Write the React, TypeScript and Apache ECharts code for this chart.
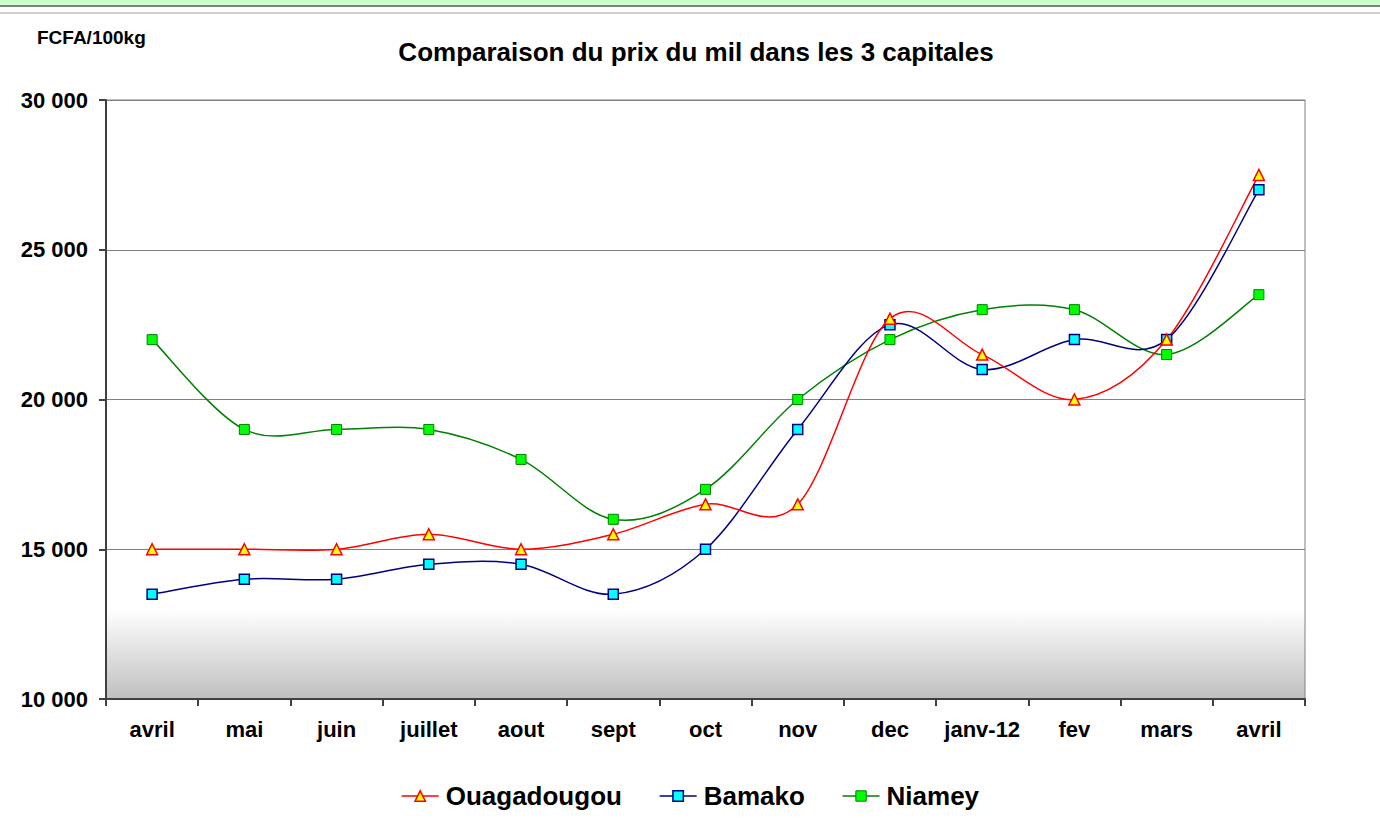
import React, { useEffect, useRef } from "react";
import * as echarts from "echarts";

const categories = ["avril", "mai", "juin", "juillet", "aout", "sept", "oct", "nov", "dec", "janv-12", "fev", "mars", "avril"];
const ouagadougou = [15000, 15000, 15000, 15500, 15000, 15500, 16500, 16500, 22700, 21500, 20000, 22000, 27500];
const bamako = [13500, 14000, 14000, 14500, 14500, 13500, 15000, 19000, 22500, 21000, 22000, 22000, 27000];
const niamey = [22000, 19000, 19000, 19000, 18000, 16000, 17000, 20000, 22000, 23000, 23000, 21500, 23500];
const seriesNames = ["Ouagadougou", "Bamako", "Niamey"];
const yMin = 10000;
const yMax = 30000;
const yStep = 5000;

const fmt = (v: number) => String(Math.round(v)).replace(/\B(?=(\d{3})+(?!\d))/g, " ");

// Excel-like smoothed curve: one cubic Bezier per segment (Catmull-Rom, tension 1/6)
function makeCurve(arr: number[], color: string) {
  const n = arr.length;
  return (params: any, api: any) => {
    const i = params.dataIndex;
    if (i >= n - 1) return null;
    const pt = (k: number) => {
      const c = Math.max(0, Math.min(n - 1, k));
      return api.coord([c, arr[c]]);
    };
    const p0 = pt(i - 1);
    const p1 = pt(i);
    const p2 = pt(i + 1);
    const p3 = pt(i + 2);
    return {
      type: "bezierCurve",
      shape: {
        x1: p1[0],
        y1: p1[1],
        x2: p2[0],
        y2: p2[1],
        cpx1: p1[0] + (p2[0] - p0[0]) / 6,
        cpy1: p1[1] + (p2[1] - p0[1]) / 6,
        cpx2: p2[0] - (p3[0] - p1[0]) / 6,
        cpy2: p2[1] - (p3[1] - p1[1]) / 6,
      },
      style: { stroke: color, lineWidth: 1.5, fill: null },
      silent: true,
    };
  };
}

export default function App() {
  const ref = useRef<HTMLDivElement>(null);
  useEffect(() => {
    if (!ref.current) return;
    const chart = echarts.init(ref.current, null, { renderer: "svg" });
    const font = "Arial, 'Liberation Sans', sans-serif";
    const defs = [
      { name: seriesNames[0], data: ouagadougou, line: "#ff0000", fill: "#ffff00", border: "#ff0000", symbol: "triangle", size: 11, bw: 1.5 },
      { name: seriesNames[1], data: bamako, line: "#000080", fill: "#00ffff", border: "#000080", symbol: "rect", size: 10, bw: 1.5 },
      { name: seriesNames[2], data: niamey, line: "#008000", fill: "#00ff00", border: "#008000", symbol: "rect", size: 10, bw: 1 },
    ];
    const markerSeries = defs.map((d, k) => ({
      name: d.name,
      type: "line",
      data: d.data,
      symbol: d.symbol,
      symbolSize: d.size,
      showSymbol: true,
      lineStyle: { color: d.line, width: 1.5, opacity: 0 },
      itemStyle: { color: d.fill, borderColor: d.border, borderWidth: d.bw },
      z: 10 - k,
    }));
    const curveSeries = defs.map((d, k) => ({
      name: d.name,
      type: "custom",
      data: d.data.map((v, i) => [i, v]),
      encode: { x: 0, y: 1 },
      renderItem: makeCurve(d.data, d.line),
      z: 5 - k,
    }));
    chart.setOption({
      animation: false,
      backgroundColor: "#ffffff",
      textStyle: { fontFamily: font },
      title: {
        text: "Comparaison du prix du mil dans les 3 capitales",
        left: 691,
        top: 34,
        textAlign: "center",
        textStyle: { fontSize: 26, fontWeight: "bold", color: "#000", fontFamily: font },
      },
      graphic: [
        { type: "rect", shape: { x: 0, y: 0, width: 1380, height: 5 }, style: { fill: "#ccffcc" }, silent: true },
        { type: "rect", shape: { x: 0, y: 5, width: 1380, height: 2 }, style: { fill: "#808080" }, silent: true },
        { type: "rect", shape: { x: 0, y: 12, width: 1380, height: 2 }, style: { fill: "#d4d0c8" }, silent: true },
        {
          type: "text",
          left: 37,
          top: 28,
          style: { text: "FCFA/100kg", font: `bold 19px ${font}`, fill: "#000" },
          silent: true,
        },
      ],
      legend: {
        top: 778,
        left: "center",
        itemWidth: 37,
        itemHeight: 13,
        itemGap: 37,
        textStyle: { fontSize: 26, fontWeight: "bold", color: "#000", fontFamily: font, padding: [0, 0, 0, 2] },
        data: defs.map((d) => ({
          name: d.name,
          itemStyle: { color: d.fill, borderColor: d.border, borderWidth: d.bw },
          lineStyle: { color: d.line, width: 1.5, opacity: 1 },
        })),
      },
      grid: {
        left: 106,
        right: 75,
        top: 100,
        bottom: 119,
        show: true,
        borderColor: "#808080",
        borderWidth: 1,
        backgroundColor: new echarts.graphic.LinearGradient(0, 0, 0, 1, [
          { offset: 0, color: "#ffffff" },
          { offset: 0.85, color: "#ffffff" },
          { offset: 1, color: "#bfbfbf" },
        ]),
      },
      xAxis: {
        type: "category",
        data: categories,
        boundaryGap: true,
        axisLine: { lineStyle: { color: "#404040", width: 2 } },
        axisTick: { show: true, length: 7, lineStyle: { color: "#404040", width: 2 } },
        axisLabel: { fontSize: 22, fontWeight: "bold", color: "#000", margin: 19, fontFamily: font, interval: 0 },
      },
      yAxis: {
        type: "value",
        min: yMin,
        max: yMax,
        interval: yStep,
        axisLine: { show: true, lineStyle: { color: "#404040", width: 2 } },
        axisTick: { show: true, length: 7, lineStyle: { color: "#404040", width: 2 } },
        splitLine: { lineStyle: { color: "#808080", width: 1 } },
        axisLabel: { fontSize: 22, fontWeight: "bold", color: "#000", margin: 18, fontFamily: font, formatter: fmt },
      },
      series: [...markerSeries, ...curveSeries],
    });
    return () => chart.dispose();
  }, []);
  return <div ref={ref} style={{ position: "fixed", left: 0, top: 0, width: 1380, height: 818 }} />;
}
